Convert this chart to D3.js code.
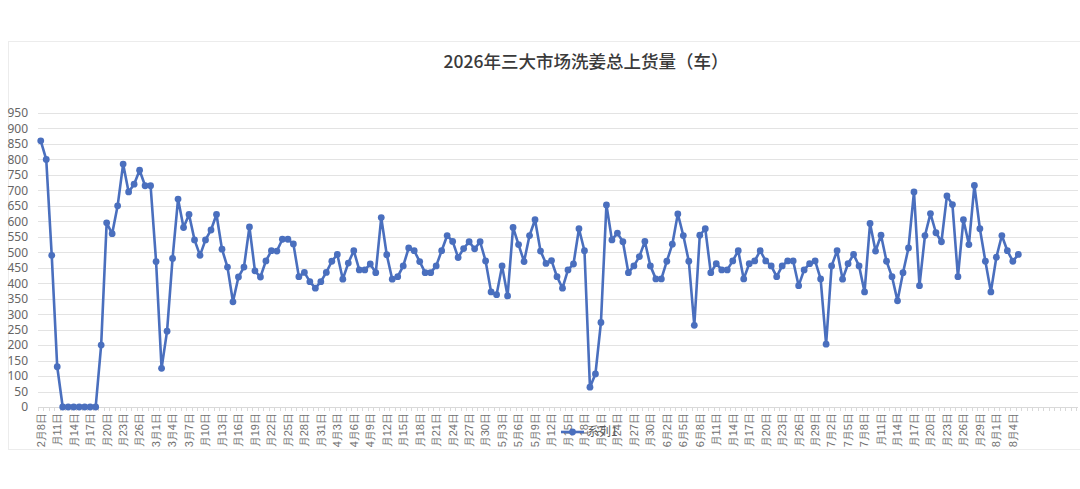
<!DOCTYPE html>
<html>
<head>
<meta charset="utf-8">
<script src="https://cdn.jsdelivr.net/npm/d3@7/dist/d3.min.js"></script>
<style>
  html, body { margin: 0; padding: 0; background: #fff; }
  svg { display: block; font-family: "Noto Sans CJK SC", "Noto Sans", sans-serif; }
</style>
</head>
<body>
<svg id="chart" width="1080" height="489"></svg>
<script>
// ---- data ----
const title = "2026年三大市场洗姜总上货量（车）";
const seriesName = "系列1";
const startDate = "2026-02-08";
const values = [
  860, 800, 490, 130, 0, 0, 0, 0, 0, 0, 0, 200, 595, 560, 650, 785, 695, 720, 765, 715,
  715, 470, 125, 245, 480, 672, 580, 622, 540, 490, 540, 572, 622, 510, 452, 340, 420, 452, 582, 440,
  420, 472, 505, 504, 542, 542, 527, 421, 435, 405, 384, 405, 435, 471, 493, 413, 465, 505, 443, 443,
  462, 434, 612, 492, 413, 421, 456, 514, 505, 470, 434, 434, 456, 505, 554, 535, 483, 512, 534, 511,
  534, 472, 372, 363, 456, 359, 580, 525, 470, 554, 605, 504, 464, 473, 421, 384, 443, 462, 576, 505,
  64, 107, 273, 653, 540, 562, 534, 434, 456, 486, 535, 456, 414, 414, 471, 526, 624, 554, 471, 264,
  555, 576, 434, 463, 443, 443, 472, 505, 414, 463, 472, 505, 472, 456, 421, 456, 472, 472, 392, 443,
  463, 472, 414, 203, 456, 505, 413, 463, 493, 456, 372, 593, 504, 555, 471, 421, 343, 434, 514, 695,
  392, 554, 625, 563, 534, 682, 654, 421, 605, 525, 716, 576, 471, 372, 484, 554, 505, 471, 493
];
const extraBlankCategories = 10;
const yTicks = [0,50,100,150,200,250,300,350,400,450,500,550,600,650,700,750,800,850,900,950];
const labelEvery = 3;

// ---- categories ----
const fmt = d3.timeFormat("%-m月%-d日");
const start = d3.timeParse("%Y-%m-%d")(startDate);
const categories = values.map((v, i) => fmt(d3.timeDay.offset(start, i)));
const allCats = categories.concat(d3.range(extraBlankCategories).map(i => "__blank" + i));
const points = values.map((v, i) => ({ cat: allCats[i], v }));

// ---- layout ----
const svg = d3.select("#chart");
const plot = { left: 38, right: 1076, top: 113, bottom: 407 };
const blue = "#4a6fbe";

const x = d3.scaleBand().domain(allCats).range([plot.left, plot.right]).padding(0);
const y = d3.scaleLinear().domain([0, 950]).range([plot.bottom, plot.top]);
const cx = c => x(c) + x.bandwidth() / 2;

// outer chart border
svg.append("rect").attr("x", 8.5).attr("y", 41.5).attr("width", 1090).attr("height", 408)
  .attr("fill", "none").attr("stroke", "#ececec").attr("stroke-width", 1);

// title
svg.append("text").attr("x", 586).attr("y", 68).attr("text-anchor", "middle")
  .attr("font-size", 17.5).attr("font-weight", 500).attr("fill", "#3a3a3a").text(title);

// gridlines
svg.append("g").selectAll("line").data(yTicks.filter(t => t > 0)).join("line")
  .attr("x1", plot.left).attr("x2", 1078)
  .attr("y1", d => Math.round(y(d)) + 0.5).attr("y2", d => Math.round(y(d)) + 0.5)
  .attr("stroke", "#e3e3e3").attr("stroke-width", 1);

// y axis labels
const yAxis = d3.axisLeft(y).tickValues(yTicks).tickSize(0).tickPadding(0);
const gy = svg.append("g").attr("transform", "translate(28,0)").call(yAxis);
gy.select(".domain").remove();
gy.selectAll("text").attr("font-size", 12).attr("fill", "#666")
  .attr("font-family", "'Noto Sans', 'Noto Sans CJK SC', sans-serif");

// x axis
svg.append("defs").append("clipPath").attr("id", "xclip")
  .append("rect").attr("x", 0).attr("y", 0).attr("width", 1080).attr("height", 450);

const xAxis = d3.axisBottom(x).tickSize(0).tickFormat(d => d.startsWith("__") ? "" : d);
const labelsClip = svg.append("g").attr("clip-path", "url(#xclip)");
const gx = labelsClip.append("g").attr("transform", `translate(0,${plot.bottom})`).call(xAxis);
gx.select(".domain").attr("stroke", "#d9d9d9").attr("d", `M${plot.left},0.5H1078`);
gx.selectAll(".tick").each(function(d, i) {
  const t = d3.select(this);
  if (i % labelEvery !== 0 || d.startsWith("__")) t.select("text").remove();
});
gx.selectAll("text")
  .attr("font-size", 11).attr("fill", "#707070")
  .attr("text-anchor", "end")
  .attr("transform", "rotate(-90)")
  .attr("x", -6).attr("y", 0).attr("dy", "0.35em");
// labels that do not fit the space under the axis lose whole leading characters
const maxLabelLen = 37;
gx.selectAll("text").each(function() {
  const node = this;
  let s = node.textContent;
  while (s.length > 1 && node.getComputedTextLength() > maxLabelLen) {
    s = s.slice(1);
    node.textContent = s;
  }
});

// category tick marks (between categories)
const tickXs = allCats.map(c => x(c)).concat([plot.right]);
svg.append("g").selectAll("line").data(tickXs).join("line")
  .attr("x1", d => Math.round(d) + 0.5).attr("x2", d => Math.round(d) + 0.5)
  .attr("y1", plot.bottom).attr("y2", plot.bottom + 4)
  .attr("stroke", "#d9d9d9").attr("stroke-width", 1);

// line
const line = d3.line().x(d => cx(d.cat)).y(d => y(d.v));
svg.append("path").datum(points).attr("d", line)
  .attr("fill", "none").attr("stroke", blue).attr("stroke-width", 2.6)
  .attr("stroke-linejoin", "round");

svg.append("g").selectAll("circle").data(points).join("circle")
  .attr("cx", d => cx(d.cat)).attr("cy", d => y(d.v)).attr("r", 3.4)
  .attr("fill", blue);

// legend
const lg = svg.append("g").attr("transform", "translate(561,432)");
lg.append("line").attr("x1", 0).attr("x2", 23).attr("y1", 0).attr("y2", 0)
  .attr("stroke", blue).attr("stroke-width", 2.6);
lg.append("circle").attr("cx", 11.5).attr("cy", 0).attr("r", 3.4).attr("fill", blue);
lg.append("text").attr("x", 26).attr("y", 0).attr("dy", "0.35em")
  .attr("font-size", 12).attr("fill", "#595959").text(seriesName);
</script>
</body>
</html>
